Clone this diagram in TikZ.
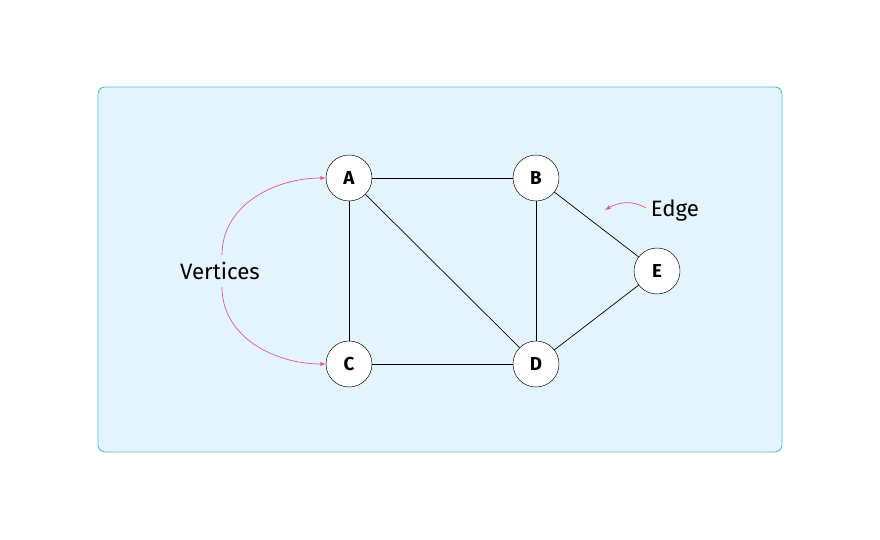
\documentclass[tikz,border=0pt]{standalone}
\usepackage{fontspec}
\setmainfont{Fira Sans}
\definecolor{panelfill}{HTML}{E4F4FD}
\definecolor{panelline}{HTML}{5DBBD0}
\definecolor{pinkline}{HTML}{E0568F}
\begin{document}
\begin{tikzpicture}[x=0.03cm,y=-0.03cm]
      \tikzset{vertex/.style={draw=black,fill=white,circle,minimum size=1.38cm,inner sep=0pt,font=\fontsize{16}{18}\selectfont\bfseries},
        edge/.style={draw=black,line width=0.6pt},
        callout/.style={font=\fontsize{19}{22}\selectfont},
        pointer/.style={draw=pinkline,line width=0.6pt,-latex}}
      \useasboundingbox (0,0) rectangle (880,540);
      \draw [panelline,line width=0.8pt,fill=panelfill,rounded corners=6pt] (98,87) rectangle (782,452);
      \node [vertex] (A) at (349,178) {A};
      \node [vertex] (B) at (536,178) {B};
      \node [vertex] (C) at (349,364) {C};
      \node [vertex] (D) at (536,364) {D};
      \node [vertex] (E) at (657,271) {E};
      \draw [edge] (A) -- (B);
      \draw [edge] (A) -- (C);
      \draw [edge] (A) -- (D);
      \draw [edge] (B) -- (D);
      \draw [edge] (C) -- (D);
      \draw [edge] (B) -- (E);
      \draw [edge] (D) -- (E);
      \node [callout] (vert) at (220,271) {Vertices};
      \node [callout] (edgelbl) at (675,211) {Edge};
      \coordinate (vtop) at (222,255);
      \coordinate (vbot) at (222,287);
      \draw [pointer] (vtop) to[out=90,in=180] (A.west);
      \draw [pointer] (vbot) to[out=-90,in=180] (C.west);
      \coordinate (etail) at (646,208);
      \coordinate (ehead) at (605,210);
      \draw [pointer] (etail) to[out=150,in=30] (ehead);
\end{tikzpicture}
\end{document}
